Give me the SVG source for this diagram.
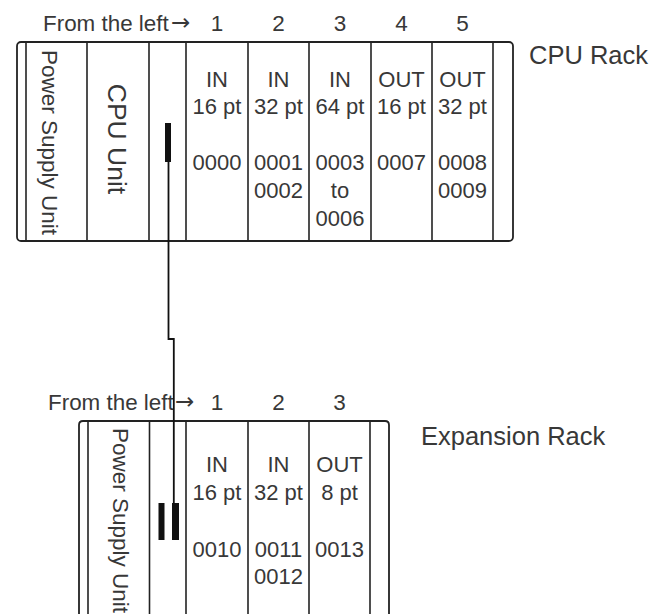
<svg xmlns="http://www.w3.org/2000/svg" width="654" height="614" viewBox="0 0 654 614">
  <style>
    text { font-family: "Liberation Sans", Arial, sans-serif; fill: #383838; }
    .hdr { font-size: 22.4px; }
    .arrow { font-family: "DejaVu Sans", sans-serif; font-size: 23px; }
    .num { font-size: 22.5px; text-anchor: middle; }
    .mod { font-size: 22px; text-anchor: middle; }
    .rack { font-size: 25.5px; }
    .vert { font-size: 22.5px; }
    .cpu { font-size: 26.5px; text-anchor: middle; }
    .frame { fill: none; stroke: #222; stroke-width: 1.8; }
    .div { stroke: #222; stroke-width: 1.6; }
    .cable { fill: none; stroke: #111; stroke-width: 1.8; }
    .plug { fill: #111; }
  </style>
  <rect width="654" height="614" fill="#fff"/>

  <!-- CPU Rack -->
  <g id="cpu-rack">
    <text class="hdr" x="43" y="31">From the left<tspan class="arrow" x="171" y="30">→</tspan></text>
    <text class="num" x="217" y="31">1</text>
    <text class="num" x="278.5" y="31">2</text>
    <text class="num" x="340" y="31">3</text>
    <text class="num" x="401.5" y="31">4</text>
    <text class="num" x="462.5" y="31">5</text>
    <rect class="frame" x="17" y="42" width="496" height="199" rx="4"/>
    <text class="rack" x="529" y="64">CPU Rack</text>
  </g>
  <g id="cpu-power-supply">
    <line class="div" x1="26" y1="42" x2="26" y2="241"/>
    <text class="vert" transform="translate(41.5,50) rotate(90)">Power Supply Unit</text>
  </g>
  <g id="cpu-unit">
    <line class="div" x1="87" y1="42" x2="87" y2="241"/>
    <text class="cpu" transform="translate(108,139) rotate(90)">CPU Unit</text>
  </g>
  <g id="cpu-io-port">
    <line class="div" x1="149" y1="42" x2="149" y2="241"/>
    <rect class="plug" x="165" y="123" width="6" height="39"/>
  </g>
  <g id="cpu-slot1">
    <line class="div" x1="186" y1="42" x2="186" y2="241"/>
    <text class="mod" x="217" y="87">IN</text>
    <text class="mod" x="217" y="114">16 pt</text>
    <text class="mod" x="217" y="170">0000</text>
  </g>
  <g id="cpu-slot2">
    <line class="div" x1="248" y1="42" x2="248" y2="241"/>
    <text class="mod" x="278.5" y="87">IN</text>
    <text class="mod" x="278.5" y="114">32 pt</text>
    <text class="mod" x="278.5" y="170">0001</text>
    <text class="mod" x="278.5" y="198">0002</text>
  </g>
  <g id="cpu-slot3">
    <line class="div" x1="309" y1="42" x2="309" y2="241"/>
    <text class="mod" x="340" y="87">IN</text>
    <text class="mod" x="340" y="114">64 pt</text>
    <text class="mod" x="340" y="170">0003</text>
    <text class="mod" x="340" y="198">to</text>
    <text class="mod" x="340" y="226">0006</text>
  </g>
  <g id="cpu-slot4">
    <line class="div" x1="371" y1="42" x2="371" y2="241"/>
    <text class="mod" x="401.5" y="87">OUT</text>
    <text class="mod" x="401.5" y="114">16 pt</text>
    <text class="mod" x="401.5" y="170">0007</text>
  </g>
  <g id="cpu-slot5">
    <line class="div" x1="432" y1="42" x2="432" y2="241"/>
    <text class="mod" x="462.5" y="87">OUT</text>
    <text class="mod" x="462.5" y="114">32 pt</text>
    <text class="mod" x="462.5" y="170">0008</text>
    <text class="mod" x="462.5" y="198">0009</text>
    <line class="div" x1="493" y1="42" x2="493" y2="241"/>
  </g>

  <!-- Expansion Rack -->
  <g id="exp-rack">
    <text class="hdr" x="48" y="410">From the left<tspan class="arrow" x="175" y="409">→</tspan></text>
    <text class="num" x="217" y="410">1</text>
    <text class="num" x="278.5" y="410">2</text>
    <text class="num" x="339.5" y="410">3</text>
    <path class="frame" d="M79,616 V425 Q79,421 83,421 H385 Q389,421 389,425 V616"/>
    <text class="rack" x="421" y="445">Expansion Rack</text>
  </g>
  <g id="exp-power-supply">
    <line class="div" x1="88" y1="421" x2="88" y2="616"/>
    <text class="vert" transform="translate(112.5,428) rotate(90)">Power Supply Unit</text>
  </g>
  <g id="exp-io-port">
    <line class="div" x1="149.5" y1="421" x2="149.5" y2="616" stroke-width="2.4"/>
    <rect class="plug" x="158.5" y="503" width="6" height="37"/>
    <rect class="plug" x="172" y="503" width="7" height="37"/>
  </g>
  <g id="exp-slot1">
    <line class="div" x1="186" y1="421" x2="186" y2="616"/>
    <text class="mod" x="217" y="472">IN</text>
    <text class="mod" x="217" y="500">16 pt</text>
    <text class="mod" x="217" y="557">0010</text>
  </g>
  <g id="exp-slot2">
    <line class="div" x1="248" y1="421" x2="248" y2="616"/>
    <text class="mod" x="278.5" y="472">IN</text>
    <text class="mod" x="278.5" y="500">32 pt</text>
    <text class="mod" x="278.5" y="557">0011</text>
    <text class="mod" x="278.5" y="584">0012</text>
  </g>
  <g id="exp-slot3">
    <line class="div" x1="309" y1="421" x2="309" y2="616"/>
    <text class="mod" x="339.5" y="472">OUT</text>
    <text class="mod" x="339.5" y="500">8 pt</text>
    <text class="mod" x="339.5" y="557">0013</text>
    <line class="div" x1="370" y1="421" x2="370" y2="616"/>
  </g>

  <!-- Connectors -->
  <g id="connectors">
    <path class="cable" d="M168.5,162 V339 H173.8 V503"/>
  </g>
</svg>
